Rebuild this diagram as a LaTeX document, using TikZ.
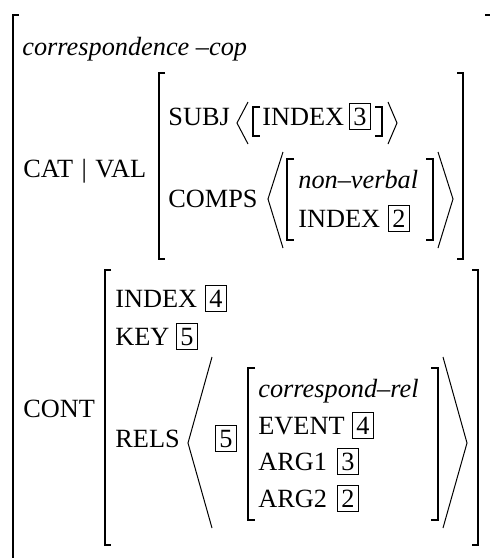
\documentclass[tikz,border=0pt]{standalone}
\usepackage{fontspec}
\setmainfont{Liberation Serif}
\tikzset{
  feat/.style={anchor=base west, inner sep=0pt, font=\fontsize{13.15}{15}\selectfont},
  tag/.style={feat, draw, line width=0.45pt, inner xsep=2pt, inner ysep=2pt},
  brack/.style={line width=1pt},
  sbrack/.style={line width=0.75pt},
  angl/.style={line width=0.5pt},
}
\begin{document}
\begin{tikzpicture}[x=0.5pt, y=-0.5pt]
\useasboundingbox (0,0) rectangle (490,558);
% outer matrix
\draw [brack] (19,15) -- (13,15) -- (13,575);
\draw [brack] (485,15) -- (492,15) -- (492,575);
\node [feat] (type) at (22,55) {\itshape correspondence \textendash cop};
\node [feat] (catval) at (23,177) {CAT\hspace{1pt} | \hspace{1pt}VAL};
\node [feat] (cont) at (23,417) {CONT};
% CAT|VAL value
\draw [brack] (165,73) -- (159,73) -- (159,259) -- (165,259);
\draw [brack] (457,73) -- (463,73) -- (463,259) -- (457,259);
\node [feat] (subj) at (168,125) {SUBJ};
\draw [angl] (248,102) -- (237,123) -- (248,144);
\draw [sbrack] (260,107) -- (253,107) -- (253,136) -- (260,136);
\node [feat] (sindex) at (262,125) {INDEX};
\node [tag] (tagthree) at (349,125) {3};
\draw [sbrack] (375,107) -- (382,107) -- (382,136) -- (375,136);
\draw [angl] (388,102) -- (397,123) -- (388,144);
\node [feat] (comps) at (168,207) {COMPS};
\draw [angl] (283,152) -- (268,199) -- (283,248);
\draw [sbrack] (294,159) -- (287,159) -- (287,240) -- (294,240);
\node [feat] (nonverb) at (298,188) {\itshape non\textendash verbal};
\node [feat] (cindex) at (298,227) {INDEX};
\node [tag] (tagtwo) at (388,227) {2};
\draw [sbrack] (426,159) -- (433,159) -- (433,240) -- (426,240);
\draw [angl] (438,152) -- (453,199) -- (438,248);
% CONT value
\draw [brack] (111,270) -- (105,270) -- (105,545) -- (111,545);
\draw [brack] (472,270) -- (478,270) -- (478,545) -- (472,545);
\node [feat] (index) at (115,307) {INDEX};
\node [tag] (tagfour) at (205,307) {4};
\node [feat] (key) at (115,345) {KEY};
\node [tag] (tagfive) at (176,345) {5};
\node [feat] (rels) at (115,447) {RELS};
\draw [angl] (212,357) -- (188,443) -- (212,528);
\node [tag] (relfive) at (215,447) {5};
\draw [sbrack] (255,368) -- (248,368) -- (248,520) -- (255,520);
\node [feat] (reltype) at (258,397) {\itshape correspond\textendash rel};
\node [feat] (event) at (258,434) {EVENT};
\node [tag] (evfour) at (352,434) {4};
\node [feat] (argone) at (258,470) {ARG1};
\node [tag] (argthree) at (337,470) {3};
\node [feat] (argtwo) at (258,507) {ARG2};
\node [tag] (argtwobox) at (337,507) {2};
\draw [sbrack] (431,368) -- (438,368) -- (438,520) -- (431,520);
\draw [angl] (443,357) -- (467,443) -- (443,528);
\end{tikzpicture}
\end{document}
